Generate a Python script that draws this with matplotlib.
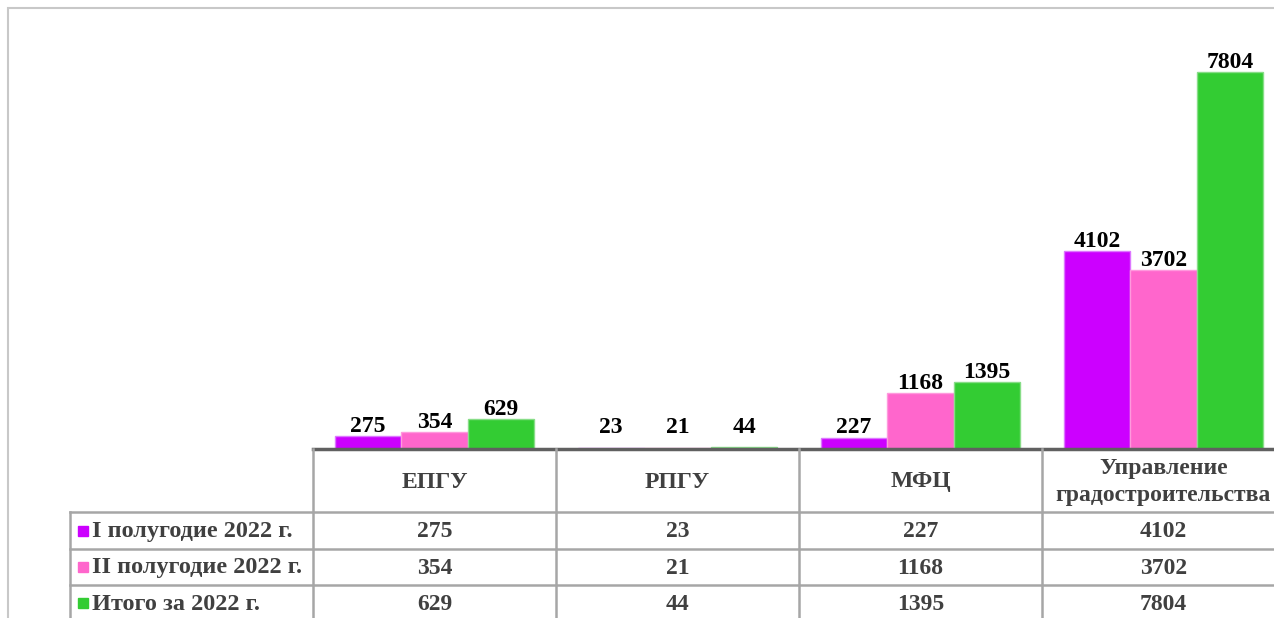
import numpy as np
import matplotlib.pyplot as plt
from matplotlib.patches import Rectangle

plt.rcParams['font.family'] = ['Liberation Serif', 'DejaVu Serif']
plt.rcParams['font.weight'] = 'bold'

# Data
categories = ['ЕПГУ', 'РПГУ', 'МФЦ', 'Управление\nградостроительства']
series_names = ['I полугодие 2022 г.', 'II полугодие 2022 г.', 'Итого за 2022 г.']
half1 = [275, 23, 227, 4102]
half2 = [354, 21, 1168, 3702]
total = [629, 44, 1395, 7804]
series = [half1, half2, total]
colors = ['#CC00FF', '#FF66CC', '#33CC33']
edges = ['#DD77FF', '#FF99DD', '#88DD88']

W, H = 1274, 618
fig = plt.figure(figsize=(W / 100, H / 100), dpi=100)

# outer chart frame (only top/left visible)
fig.patches.append(Rectangle((8 / W, -0.1), 1.2, (H - 8) / H + 0.1, transform=fig.transFigure,
                             fill=False, edgecolor='#C8C8C8', linewidth=1.5))

# plot area: x from 313 px to 1285 px, baseline at 449 px
ax = fig.add_axes([313 / W, (H - 449) / H, 972 / W, 435 / H])
x = np.arange(len(categories))
bw = 0.274
for i, vals in enumerate(series):
    pos = x + (i - 1) * bw
    ax.bar(pos, vals, width=bw, color=colors[i], edgecolor=edges[i], linewidth=1)
    for p, v in zip(pos, vals):
        ax.annotate(str(v), (p, max(v, 250)), xytext=(0, 4), textcoords='offset pixels',
                    ha='center', va='baseline', fontsize=17, fontweight='bold', color='black')
ax.set_xlim(-0.5, len(categories) - 0.5)
ax.set_ylim(0, 9000)
ax.set_xticks([])
ax.set_yticks([])
for s in ['top', 'left', 'right']:
    ax.spines[s].set_visible(False)
ax.spines['bottom'].set_color('#606060')
ax.spines['bottom'].set_linewidth(2.5)
ax.patch.set_alpha(0)

# data table below the plot
tab = fig.add_axes([70 / W, (H - 621) / H, 1215 / W, 172 / H])
tab.set_xlim(-1.5, len(categories) - 0.5)
tab.set_ylim(172, 0)
tab.axis('off')
grid = '#A6A6A6'
txt = '#404040'
rows = [0, 63, 100, 136, 172]
for b in np.arange(-0.5, len(categories), 1.0):
    tab.plot([b, b], [0, 172], color=grid, lw=1.8, clip_on=False)
tab.plot([-1.5, -1.5], [63, 172], color=grid, lw=1.8, clip_on=False)
for r in rows[1:]:
    tab.plot([-1.5, len(categories) - 0.5], [r, r], color=grid, lw=1.8, clip_on=False)

for j, c in enumerate(categories):
    tab.text(j, 33, c, ha='center', va='center', fontsize=17, color=txt,
             linespacing=1.4, clip_on=False)
for i, vals in enumerate(series):
    yc = (rows[i + 1] + rows[i + 2]) / 2
    tab.add_patch(Rectangle((-1.5 + 8 / 243, yc - 5), 10 / 243, 10, color=colors[i],
                            clip_on=False))
    tab.text(-1.5 + 22 / 243, yc + 1, series_names[i], ha='left', va='center',
             fontsize=17.5, color=txt, clip_on=False)
    for j, v in enumerate(vals):
        tab.text(j, yc + 1, str(v), ha='center', va='center', fontsize=17, color=txt,
                 clip_on=False)

fig.savefig('out.png', dpi=100)
